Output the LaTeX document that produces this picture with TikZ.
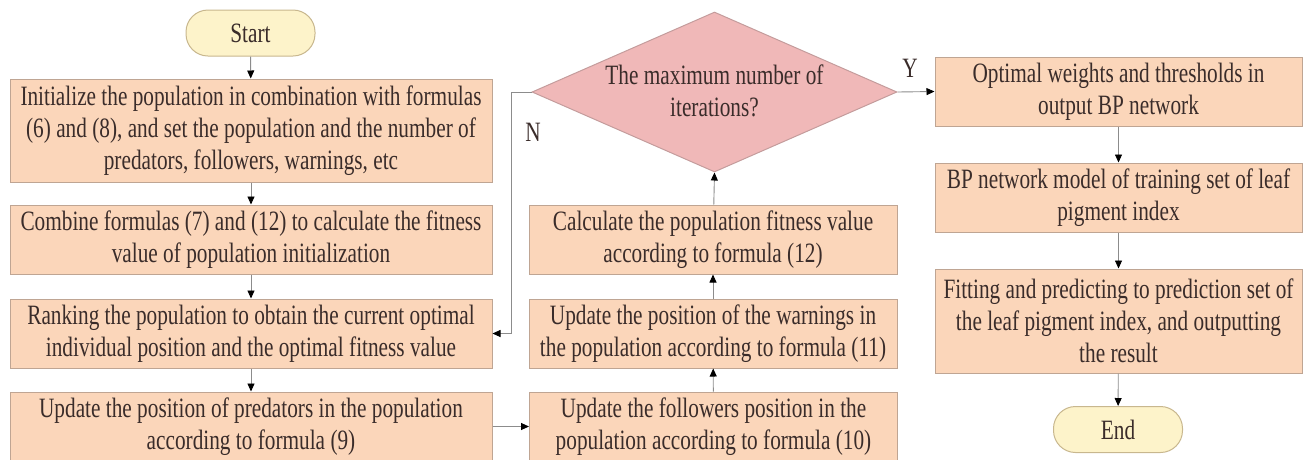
\documentclass[tikz,border=0pt]{standalone}
\usepackage{fontspec}
\setmainfont{Liberation Serif}[FakeStretch=0.76]
\usetikzlibrary{arrows.meta,shapes.geometric}
\definecolor{boxfill}{HTML}{FBD6BA}
\definecolor{boxline}{HTML}{BFA593}
\definecolor{diafill}{HTML}{F0B8B8}
\definecolor{dialine}{HTML}{C49C9C}
\definecolor{termfill}{HTML}{FDF3CA}
\definecolor{termline}{HTML}{C8B78E}
\definecolor{linegray}{HTML}{8C8C8C}
\definecolor{txt}{HTML}{3A2C2A}
\tikzset{
  every node/.style={text=txt, font=\fontsize{28}{32}\selectfont},
  box/.style={draw=boxline, fill=boxfill, line width=1pt, inner sep=0pt, align=center, minimum height=69pt},
  lbox/.style={box, minimum width=482pt},
  mbox/.style={box, minimum width=368pt},
  rbox/.style={box, minimum width=367pt},
  term/.style={draw=termline, fill=termfill, line width=1pt, rounded corners=22pt, inner sep=0pt, minimum width=129pt, minimum height=46pt},
  dia/.style={diamond, draw=dialine, fill=diafill, line width=1pt, inner sep=0pt, minimum width=365pt, minimum height=160pt},
  conn/.style={draw=linegray, line width=0.9pt, -{Triangle[length=8pt,width=7pt,color=black]}}
}
\begin{document}
\begin{tikzpicture}[x=1pt,y=-1pt]
\useasboundingbox (0,0) rectangle (1309,459);
% left column
\node[term] (start) at (250.5,33) {Start};
\node[lbox, minimum height=103pt] (b1) at (251,130.5) {Initialize the population in combination with formulas\\(6) and (8), and set the population and the number of\\predators, followers, warnings, etc};
\node[lbox] (b2) at (251,239.5) {Combine formulas (7) and (12) to calculate the fitness\\value of population initialization};
\node[lbox] (b3) at (251,333.5) {Ranking the population to obtain the current optimal\\individual position and the optimal fitness value};
\node[lbox] (b4) at (251,426.5) {Update the position of predators in the population\\according to formula (9)};
% middle column
\node[dia] (d) at (714.5,92) {};
\node (dtext) at (714.5,91) [align=center] {The maximum number of\\iterations?};
\node[mbox] (calc) at (713,239.5) {Calculate the population fitness value\\according to formula (12)};
\node[mbox] (warn) at (713,333.5) {Update the position of the warnings in\\the population according to formula (11)};
\node[mbox] (fol) at (713.5,426.5) {Update the followers position in the\\population according to formula (10)};
% right column
\node[rbox] (opt) at (1118.5,91.5) {Optimal weights and thresholds in\\output BP network};
\node[rbox] (bp) at (1118.5,197.5) {BP network model of training set of leaf\\pigment index};
\node[rbox, minimum height=104pt] (fit) at (1118.5,321) {Fitting and predicting to prediction set of\\the leaf pigment index, and outputting\\the result};
\node[term] (end) at (1118,429.5) {End};
% labels
\node (nlab) at (533,132) {N};
\node (ylab) at (910,68) {Y};
% connectors
\draw[conn] (start) -- (b1);
\draw[conn] (b1) -- (b2);
\draw[conn] (b2) -- (b3);
\draw[conn] (b3) -- (b4);
\draw[conn] (b4) -- (fol);
\draw[conn] (fol) -- (warn);
\draw[conn] (warn) -- (calc);
\draw[conn] (calc) -- (d.south);
\coordinate (nturn) at (511,92);
\draw[conn] (d.west) -- (nturn) |- (b3.east);
\draw[conn] (d.east) -- (opt.west);
\draw[conn] (opt) -- (bp);
\draw[conn] (bp) -- (fit);
\draw[conn] (fit) -- (end);
\end{tikzpicture}
\end{document}
